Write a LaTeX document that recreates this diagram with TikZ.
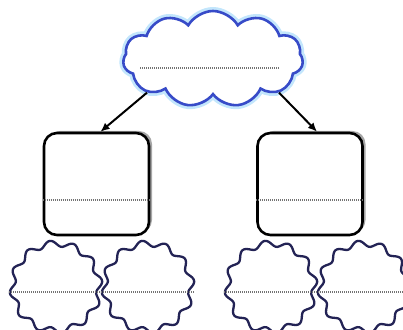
\documentclass[tikz,border=0pt]{standalone}
\usetikzlibrary{shapes.symbols,shadows,arrows.meta}

\definecolor{cloudblue}{RGB}{55,75,200}
\definecolor{cloudglow}{RGB}{195,230,252}
\definecolor{wavenavy}{RGB}{35,35,85}

\begin{document}
\begin{tikzpicture}[
  x=1pt, y=1pt,
  topic/.style={cloud, cloud puffs=11, cloud puff arc=120, aspect=1.9, minimum width=180pt, minimum height=96pt, draw=cloudblue, line width=2.6pt, fill=white, preaction={draw=cloudglow, line width=8pt}},
  card/.style={rectangle, rounded corners=13pt, draw, line width=2.6pt, fill=white, minimum width=105pt, minimum height=102pt, drop shadow={shadow xshift=3pt, shadow yshift=2pt, opacity=0.7}},
  bubble/.style={circle, minimum size=93pt, inner sep=0pt},
  wave/.style={draw=wavenavy, line width=2.3pt},
  dotline/.style={draw=black!55, line width=1.5pt, dash pattern=on 1pt off 1pt},
  arr/.style={-{Latex[length=9pt,width=8pt]}, line width=2pt}
]
\useasboundingbox (0,0) rectangle (403,329);

\node[topic] (top) at (213,270) {};
\node[card] (lbox) at (96.5,145) {};
\node[card] (rbox) at (310,145) {};

\node[bubble] (lb1) at (56,42) {};
\node[bubble] (lb2) at (148,42) {};
\node[bubble] (rb1) at (271,42) {};
\node[bubble] (rb2) at (364,42) {};

\foreach \n in {lb1,lb2,rb1,rb2}
  \draw[wave, shift={(\n.center)}] plot[domain=0:360, samples=241, smooth] (\x:{43.5+3*sin(12*\x)});

% text lines
\draw[dotline] ([shift={(-73,-9)}]top.center) -- ([shift={(67,-9)}]top.center);
\draw[dotline] ([yshift=-16pt]lbox.west) -- ([yshift=-16pt]lbox.east);
\draw[dotline] ([yshift=-16pt]rbox.west) -- ([yshift=-16pt]rbox.east);
\draw[dotline] ([yshift=-5pt]lb1.west) -- ([yshift=-5pt]lb2.east);
\draw[dotline] ([yshift=-5pt]rb1.west) -- ([yshift=-5pt]rb2.east);

\draw[arr] (top.207) -- ([xshift=4pt]lbox.north);
\draw[arr] (top.333) -- ([xshift=7pt]rbox.north);
\end{tikzpicture}
\end{document}
